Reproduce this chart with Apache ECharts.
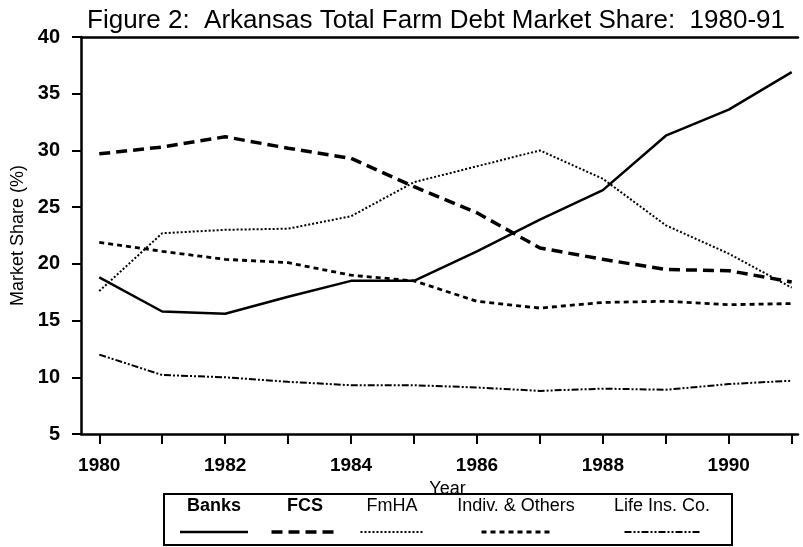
<!DOCTYPE html>
<html>
<head>
<meta charset="utf-8">
<title>Arkansas Total Farm Debt Market Share</title>
<script src="https://cdn.jsdelivr.net/npm/echarts@6/dist/echarts.min.js"></script>
<style>
  html, body { margin: 0; padding: 0; background: #fff; }
  #main { width: 803px; height: 547px; }
</style>
</head>
<body>
<div id="main"></div>
<script>
// data
var years = [1980, 1981, 1982, 1983, 1984, 1985, 1986, 1987, 1988, 1989, 1990, 1991];
var banks = [18.8, 15.8, 15.6, 17.1, 18.5, 18.5, 21.1, 23.9, 26.5, 31.3, 33.6, 36.9];
var fcs   = [29.7, 30.3, 31.2, 30.2, 29.3, 26.8, 24.5, 21.4, 20.4, 19.5, 19.4, 18.4];
var fmha  = [17.6, 22.7, 23.0, 23.1, 24.2, 27.2, 28.6, 30.0, 27.5, 23.4, 20.9, 17.9];
var indiv = [21.9, 21.1, 20.4, 20.1, 19.0, 18.5, 16.7, 16.1, 16.6, 16.7, 16.4, 16.5];
var life  = [12.0, 10.2, 10.0, 9.6, 9.3, 9.3, 9.1, 8.8, 9.0, 8.9, 9.4, 9.7];
var seriesNames = ['Banks', 'FCS', 'FmHA', 'Indiv. & Others', 'Life Ins. Co.'];
var tickYears = [1980, 1981, 1982, 1983, 1984, 1985, 1986, 1987, 1988, 1989, 1990, 1991];
var labelYears = [1980, 1982, 1984, 1986, 1988, 1990];

var FONT = 'Liberation Sans, Arial, Helvetica, sans-serif';

// line looks, same order as seriesNames
var styles = [
    { width: 2.5, type: 'solid' },
    { width: 3.5, type: [11, 6] },
    { width: 2, type: [2, 2] },
    { width: 2.8, type: [5, 4] },
    { width: 2, type: [7, 2, 2, 2, 2, 2] }
];
var values = [banks, fcs, fmha, indiv, life];

function pairs(arr) {
    var out = [];
    for (var i = 0; i < years.length; i++) {
        out.push([years[i], arr[i]]);
    }
    return out;
}

var series = [];
for (var s = 0; s < seriesNames.length; s++) {
    series.push({
        name: seriesNames[s],
        type: 'line',
        data: pairs(values[s]),
        symbol: 'none',
        smooth: false,
        lineStyle: { color: '#000', width: styles[s].width, type: styles[s].type, cap: 'butt' }
    });
}

// legend box under the axis, text above a line sample
var legendCenters = [214, 305, 392, 516, 662];
var legendWidths = [68, 67, 63, 69, 75];
var graphics = [{
    type: 'rect',
    shape: { x: 164, y: 494, width: 568, height: 51 },
    style: { fill: 'none', stroke: '#000', lineWidth: 2 }
}];
for (var k = 0; k < seriesNames.length; k++) {
    graphics.push({
        type: 'text',
        x: legendCenters[k],
        y: 506,
        style: {
            text: seriesNames[k], fill: '#000', font: (k < 2 ? 'bold ' : '') + '18px ' + FONT,
            textAlign: 'center', textVerticalAlign: 'middle'
        }
    });
    graphics.push({
        type: 'line',
        shape: { x1: legendCenters[k] - legendWidths[k] / 2, y1: 532, x2: legendCenters[k] + legendWidths[k] / 2, y2: 532 },
        style: { stroke: '#000', lineWidth: styles[k].width, lineDash: styles[k].type === 'solid' ? null : styles[k].type }
    });
}

var myChart = echarts.init(document.getElementById('main'));
myChart.setOption({
    animation: false,
    backgroundColor: '#fff',
    title: {
        text: 'Figure 2:  Arkansas Total Farm Debt Market Share:  1980-91',
        left: 431,
        textAlign: 'center',
        top: 3,
        textStyle: { color: '#000', fontSize: 26, fontWeight: 'normal', fontFamily: FONT }
    },
    grid: { left: 81, right: 5, top: 37, bottom: 113, outerBoundsMode: 'none' },
    xAxis: [{
        type: 'value',
        min: 1979.71,
        max: 1991.1,
        name: 'Year',
        nameLocation: 'middle',
        nameGap: 46,
        nameTextStyle: { color: '#000', fontSize: 18, fontFamily: FONT, padding: [0, 0, 0, 16] },
        splitLine: { show: false },
        axisLine: { lineStyle: { color: '#000', width: 2.5 } },
        axisTick: { customValues: tickYears, length: 10, inside: false, lineStyle: { color: '#000', width: 2 } },
        axisLabel: {
            customValues: labelYears, margin: 22, color: '#000',
            fontSize: 19, fontWeight: 'bold', fontFamily: FONT,
            formatter: function (v) { return String(v); }
        }
    }, {
        // plain rule along the top of the plot
        type: 'value',
        position: 'top',
        min: 1979.71,
        max: 1991.1,
        splitLine: { show: false },
        axisLine: { lineStyle: { color: '#000', width: 2.5 } },
        axisTick: { show: false },
        axisLabel: { show: false }
    }],
    yAxis: {
        type: 'value',
        min: 5,
        max: 40,
        interval: 5,
        name: 'Market Share (%)',
        nameLocation: 'middle',
        nameGap: 54,
        nameTextStyle: { color: '#000', fontSize: 18, fontFamily: FONT },
        splitLine: { show: false },
        axisLine: { show: true, lineStyle: { color: '#000', width: 2.5 } },
        axisTick: { show: true, length: 9, lineStyle: { color: '#000', width: 2 } },
        axisLabel: { margin: 21, color: '#000', fontSize: 20, fontWeight: 'bold', fontFamily: FONT }
    },
    graphic: graphics,
    series: series
});
</script>
</body>
</html>
